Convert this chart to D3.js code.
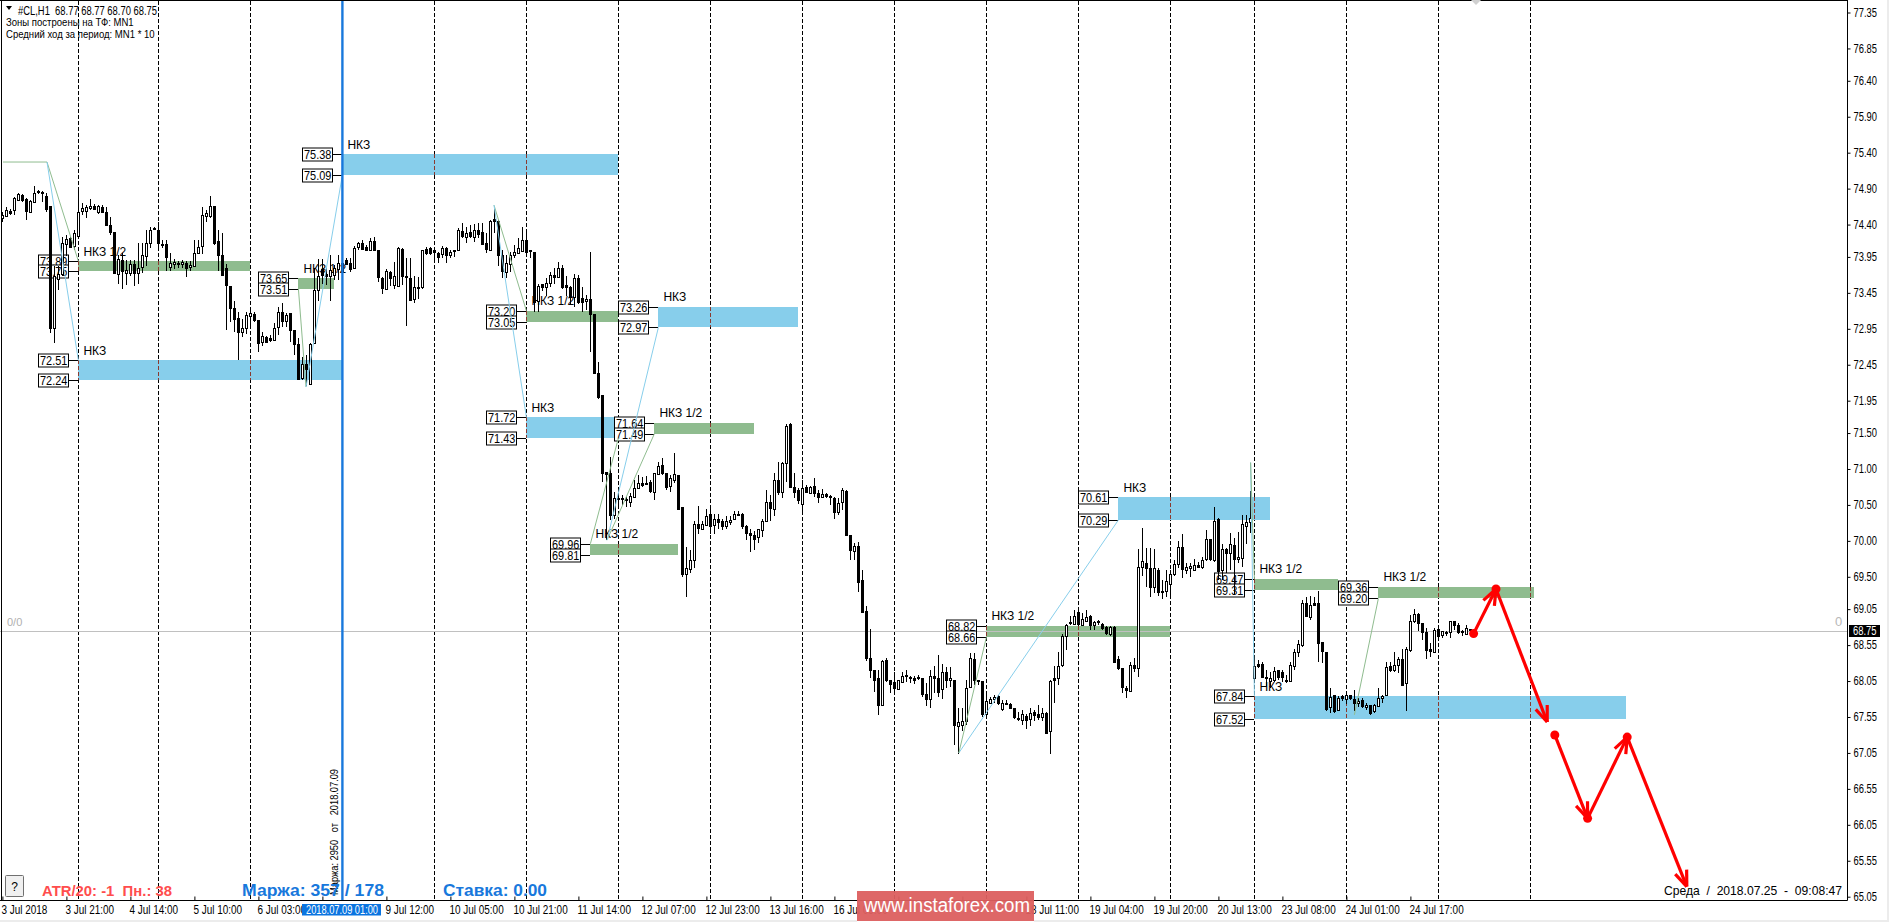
<!DOCTYPE html>
<html><head><meta charset="utf-8">
<script src="https://cdn.jsdelivr.net/npm/d3@7/dist/d3.min.js"></script>
<style>
html,body{margin:0;padding:0;background:#fff;overflow:hidden}
svg{display:block}
text{font-family:"Liberation Sans",Arial,sans-serif;fill:#000;white-space:pre}
</style></head><body>
<script>
const opens=[74.49,74.51,74.59,74.60,74.75,74.81,74.75,74.58,74.71,74.84,
74.85,74.80,74.66,72.96,73.64,73.72,74.13,74.21,74.10,74.24,
74.59,74.60,74.63,74.66,74.57,74.65,74.58,74.40,74.30,73.71,
73.91,73.73,73.73,73.85,73.72,73.81,73.96,74.15,74.35,74.33,
74.13,74.13,73.81,73.85,73.86,73.85,73.86,73.81,73.82,74.01,
74.10,74.52,74.52,74.66,74.17,73.98,73.79,73.54,73.24,73.10,
72.91,72.96,73.13,73.15,73.07,72.76,72.84,72.82,72.80,72.97,
73.19,73.06,73.17,72.94,72.74,72.26,72.46,72.18,72.75,73.49,
73.78,73.71,73.68,73.69,73.79,73.74,73.91,73.87,73.80,74.09,
74.15,74.09,74.04,74.17,74.04,73.65,73.50,73.74,73.56,73.54,
74.06,73.68,73.66,73.36,73.51,73.52,74.06,74.07,74.04,74.01,
73.98,74.08,73.98,74.04,74.04,74.31,74.23,74.29,74.23,74.33,
74.30,74.14,74.05,74.48,74.45,73.98,73.74,73.86,73.98,74.01,
74.04,74.19,74.04,74.02,73.33,73.57,73.53,73.59,73.70,73.68,
73.79,73.56,73.53,73.39,73.66,73.38,73.34,73.36,73.16,72.33,
72.03,70.96,70.94,70.36,70.59,70.59,70.58,70.54,70.61,70.73,
70.80,70.81,70.82,70.68,70.93,71.05,70.94,70.76,70.85,70.92,
70.47,69.54,69.60,69.73,70.24,70.17,70.23,70.38,70.21,70.31,
70.27,70.21,70.26,70.30,70.36,70.38,70.21,70.11,70.08,70.05,
70.15,70.28,70.54,70.45,70.85,70.68,71.08,71.62,70.75,70.71,
70.51,70.75,70.67,70.76,70.67,70.61,70.65,70.62,70.59,70.40,
70.55,70.69,70.08,69.86,69.93,69.46,69.02,68.37,68.20,68.09,
67.72,68.34,68.06,68.04,67.94,68.04,68.13,68.11,68.09,68.10,
68.09,67.87,67.80,68.12,68.09,67.93,68.17,68.06,68.07,67.43,
67.45,67.49,67.96,68.35,68.06,68.05,67.59,67.74,67.80,67.84,
67.66,67.75,67.73,67.67,67.53,67.50,67.57,67.52,67.62,67.59,
67.55,67.61,67.35,68.09,68.09,68.26,68.68,68.87,68.85,69.01,
68.83,68.89,68.95,68.83,68.88,68.84,68.80,68.70,68.80,68.35,
68.23,67.96,67.92,68.28,68.24,69.64,69.69,69.62,69.35,69.60,
69.30,69.30,69.40,69.54,69.68,69.91,69.60,69.62,69.60,69.67,
69.64,69.74,70.02,69.74,70.30,69.59,69.88,69.83,69.94,69.74,
69.77,70.21,70.26,68.09,68.29,68.29,68.11,68.05,68.07,68.21,
68.18,68.05,68.06,68.26,68.45,68.54,69.14,68.95,69.14,69.14,
68.59,68.46,67.69,67.85,67.64,67.84,67.80,67.85,67.80,67.74,
67.79,67.69,67.71,67.62,67.70,67.81,67.85,68.26,68.21,68.27,
68.36,68.02,68.49,68.88,68.98,68.86,68.73,68.49,68.46,68.77,
68.69,68.73,68.73,68.88,68.83,68.74,68.70,68.77];
const highs=[74.57,74.64,74.61,74.79,74.84,74.83,74.77,74.74,74.93,74.88,
74.87,74.84,74.66,73.82,73.82,74.23,74.26,74.23,74.33,74.87,
74.70,74.67,74.75,74.68,74.67,74.67,74.64,74.51,74.30,73.98,
74.00,73.91,73.91,73.91,74.15,74.15,74.33,74.37,74.36,74.44,
74.18,74.18,74.00,73.92,73.90,73.91,73.90,73.89,74.19,74.19,
74.64,74.60,74.80,74.66,74.32,74.28,73.85,73.55,73.34,73.19,
73.09,73.19,73.24,73.18,73.07,72.90,72.85,72.87,73.03,73.25,
73.31,73.17,73.17,72.94,72.82,72.56,72.59,72.75,73.79,73.92,
73.92,73.79,73.98,73.84,73.98,73.94,73.94,73.93,74.10,74.16,
74.19,74.11,74.21,74.23,74.04,73.67,73.78,73.76,73.88,74.09,
74.07,73.94,73.93,73.68,73.67,74.05,74.09,74.09,74.05,74.02,
74.10,74.09,74.04,74.05,74.35,74.42,74.36,74.39,74.41,74.42,
74.42,74.28,74.47,74.62,74.47,74.04,73.98,74.02,74.11,74.21,
74.37,74.30,74.05,74.02,73.58,73.58,73.65,73.74,73.79,73.88,
73.84,73.68,73.54,73.71,73.70,73.53,73.42,74.02,73.16,72.49,
72.03,70.96,71.17,70.68,70.71,70.64,70.61,70.66,70.85,70.92,
70.89,70.90,70.85,70.95,71.10,71.15,70.94,70.92,71.22,70.92,
70.47,69.92,69.87,70.27,70.48,70.27,70.45,70.45,70.38,70.38,
70.31,70.34,70.34,70.42,70.42,70.39,70.22,70.17,70.14,70.17,
70.31,70.71,70.64,70.94,71.10,71.10,71.62,71.64,70.94,70.73,
70.85,70.78,70.76,70.87,70.71,70.72,70.66,70.64,70.61,70.59,
70.74,70.71,70.08,69.97,69.99,69.59,69.09,68.77,68.20,68.20,
68.34,68.37,68.07,68.18,68.07,68.17,68.21,68.12,68.12,68.13,
68.09,68.02,68.21,68.26,68.41,68.29,68.25,68.24,68.07,67.67,
67.67,68.06,68.44,68.44,68.07,68.05,67.88,67.83,67.85,67.86,
67.79,67.79,67.74,67.67,67.62,67.65,67.59,67.67,67.65,67.72,
67.67,67.62,68.07,68.26,68.46,68.71,68.85,68.95,69.04,69.02,
68.99,69.04,68.97,68.89,68.90,68.86,68.81,68.81,68.81,68.40,
68.23,67.98,68.32,68.37,69.88,70.18,69.90,69.90,69.88,69.62,
69.46,69.60,69.60,69.74,70.00,70.09,69.69,69.69,69.75,69.70,
69.77,70.15,70.02,70.47,70.32,69.95,69.90,70.11,70.04,70.13,
70.36,70.36,70.69,68.35,68.34,68.32,68.20,68.17,68.25,68.21,
68.21,68.14,68.32,68.49,68.62,69.18,69.22,69.23,69.22,69.30,
68.59,68.46,67.95,67.86,67.84,67.86,67.88,67.86,67.93,67.81,
67.81,67.74,67.72,67.73,67.95,67.86,68.32,68.32,68.45,68.39,
68.49,68.53,68.97,69.05,68.99,68.86,68.79,68.58,68.79,68.79,
68.75,68.75,68.89,68.89,68.86,68.76,68.83,68.77];
const lows=[74.44,74.50,74.53,74.54,74.74,74.71,74.46,74.57,74.70,74.82,
74.72,74.58,72.89,72.75,73.49,73.69,73.96,74.07,74.05,74.23,
74.53,74.49,74.60,74.60,74.55,74.56,74.38,74.26,73.72,73.58,
73.50,73.56,73.68,73.55,73.57,73.72,73.82,74.07,74.33,74.07,
74.08,73.76,73.75,73.78,73.79,73.79,73.67,73.75,73.81,74.00,
73.99,74.44,74.49,74.12,73.76,73.70,72.93,73.05,72.91,72.52,
72.84,72.88,72.96,73.05,72.63,72.71,72.76,72.77,72.79,72.86,
72.98,72.98,72.77,72.59,72.24,72.24,72.15,72.17,72.75,73.33,
73.58,73.56,73.33,73.63,73.63,73.73,73.84,73.74,73.79,74.04,
74.04,74.04,74.04,74.04,73.60,73.44,73.49,73.54,73.51,73.53,
73.56,72.99,73.33,73.31,73.37,73.51,73.98,73.98,73.91,73.86,
73.93,73.86,73.93,73.95,74.04,74.21,74.14,74.22,74.16,74.22,
74.13,74.01,74.04,74.28,73.82,73.65,73.65,73.74,73.94,74.00,
74.02,73.96,73.93,73.19,73.19,73.48,73.40,73.53,73.58,73.67,
73.51,73.40,73.30,73.26,73.30,73.19,73.21,72.63,72.34,71.97,
70.82,70.01,70.29,70.31,70.47,70.50,70.47,70.47,70.59,70.72,
70.75,70.78,70.67,70.57,70.92,70.92,70.71,70.68,70.80,70.45,
69.50,69.22,69.55,69.62,70.10,70.15,70.22,70.10,70.10,70.17,
70.15,70.17,70.22,70.29,70.34,70.17,70.01,69.84,69.87,69.97,
70.06,70.26,70.27,70.34,70.64,70.59,70.82,70.73,70.59,70.51,
70.39,70.66,70.66,70.61,70.52,70.61,70.59,70.50,70.30,70.36,
70.43,70.07,69.73,69.73,69.29,68.99,68.33,68.09,67.90,67.58,
67.71,68.04,67.88,67.88,67.93,68.02,68.04,68.02,68.01,68.06,
67.83,67.70,67.67,67.88,67.83,67.80,67.96,67.97,67.16,67.04,
67.35,67.44,67.95,68.00,68.00,67.55,67.56,67.73,67.74,67.72,
67.63,67.72,67.66,67.52,67.49,67.44,67.38,67.42,67.49,67.51,
67.49,67.32,67.04,67.75,68.00,68.25,68.48,68.83,68.83,68.83,
68.81,68.88,68.76,68.76,68.83,68.76,68.69,68.67,68.31,68.21,
67.88,67.81,67.91,68.18,68.11,69.51,69.36,69.22,69.27,69.23,
69.19,69.22,69.25,69.51,69.62,69.48,69.54,69.50,69.59,69.62,
69.61,69.72,69.72,69.71,69.46,69.46,69.55,69.60,69.25,69.69,
69.64,69.95,70.11,68.07,68.23,68.09,67.98,67.95,68.03,68.07,
68.03,68.02,68.05,68.21,68.39,68.53,68.94,68.90,69.09,68.31,
68.30,67.63,67.60,67.61,67.63,67.77,67.73,67.79,67.63,67.69,
67.67,67.65,67.58,67.60,67.69,67.74,67.84,68.18,68.18,68.16,
67.98,67.63,68.46,68.86,68.74,68.62,68.36,68.39,68.45,68.66,
68.65,68.67,68.65,68.76,68.71,68.67,68.69,68.70];
const closes=[74.53,74.60,74.56,74.77,74.83,74.74,74.59,74.73,74.84,74.86,
74.83,74.62,72.96,73.68,73.71,74.15,74.20,74.09,74.28,74.58,
74.63,74.65,74.66,74.62,74.66,74.58,74.40,74.30,73.73,73.92,
73.76,73.77,73.85,73.73,73.79,73.98,74.14,74.33,74.33,74.15,
74.11,73.95,73.86,73.88,73.84,73.88,73.79,73.84,74.00,74.09,
74.53,74.56,74.66,74.15,73.98,73.70,73.56,73.24,73.09,72.91,
72.96,73.14,73.17,73.06,72.75,72.85,72.77,72.79,72.96,73.18,
73.07,73.14,72.93,72.75,72.26,72.46,72.39,72.74,73.49,73.68,
73.69,73.68,73.77,73.79,73.87,73.87,73.86,73.79,74.08,74.14,
74.06,74.05,74.17,74.04,73.66,73.51,73.75,73.66,73.68,74.07,
73.68,73.66,73.35,73.53,73.53,74.04,74.01,74.00,74.01,73.95,
74.07,73.98,74.02,74.02,74.32,74.24,74.28,74.24,74.33,74.28,
74.14,74.05,74.45,74.45,73.98,73.76,73.86,73.98,74.02,74.08,
74.19,74.02,74.02,73.33,73.54,73.53,73.59,73.70,73.67,73.80,
73.53,73.53,73.39,73.66,73.33,73.33,73.37,73.15,72.34,72.00,
70.94,70.93,70.36,70.60,70.58,70.57,70.56,70.63,70.73,70.80,
70.77,70.79,70.69,70.94,71.04,70.94,70.74,70.87,70.93,70.45,
69.54,69.62,69.73,70.23,70.19,70.24,70.35,70.22,70.30,70.27,
70.20,70.28,70.29,70.37,70.38,70.21,70.11,70.08,70.03,70.16,
70.27,70.54,70.45,70.85,70.68,71.09,71.60,70.75,70.68,70.57,
70.73,70.68,70.75,70.66,70.62,70.65,70.62,70.61,70.40,70.53,
70.71,70.08,69.87,69.93,69.43,69.02,68.37,68.20,68.06,67.71,
68.33,68.06,68.00,67.95,68.06,68.12,68.11,68.09,68.06,68.08,
67.87,67.80,68.12,68.09,67.90,68.17,68.06,68.09,67.44,67.48,
67.50,67.95,68.37,68.06,68.04,67.59,67.77,67.80,67.83,67.74,
67.74,67.73,67.67,67.54,67.51,67.59,67.52,67.61,67.58,67.55,
67.60,67.33,68.05,68.06,68.26,68.67,68.83,68.85,68.96,68.85,
68.92,68.94,68.83,68.87,68.86,68.79,68.71,68.80,68.32,68.23,
67.96,67.93,68.28,68.24,69.64,69.72,69.62,69.36,69.62,69.30,
69.28,69.44,69.54,69.68,69.91,69.60,69.64,69.65,69.67,69.64,
69.74,70.02,69.74,70.28,69.58,69.88,69.83,69.96,69.74,69.77,
70.24,70.26,70.32,68.26,68.26,68.11,68.09,68.09,68.19,68.11,
68.11,68.07,68.28,68.46,68.56,69.13,68.96,69.11,69.11,68.58,
68.46,67.67,67.83,67.63,67.81,67.81,67.85,67.81,67.75,67.77,
67.70,67.72,67.60,67.71,67.81,67.84,68.24,68.21,68.28,68.35,
68.00,68.49,68.89,68.98,68.86,68.73,68.48,68.46,68.76,68.67,
68.74,68.72,68.88,68.83,68.73,68.72,68.79,68.75];

const priceTicks=[77.35,76.85,76.40,75.90,75.40,74.90,74.40,73.95,73.45,72.95,72.45,71.95,71.50,71.00,70.50,70.00,69.50,69.05,68.55,68.05,67.55,67.05,66.55,66.05,65.55,65.05];
const timeTickBars=[0,16,32,48,64,80,96,112,128,144,160,176,192,208,224,240,256,272,288,304,320,336,352];
const timeTickLabels=["3 Jul 2018","3 Jul 21:00","4 Jul 14:00","5 Jul 10:00","6 Jul 03:00","","9 Jul 12:00","10 Jul 05:00","10 Jul 21:00","11 Jul 14:00","12 Jul 07:00","12 Jul 23:00","13 Jul 16:00","16 Jul 09:00","","","18 Jul 11:00","19 Jul 04:00","19 Jul 20:00","20 Jul 13:00","23 Jul 08:00","24 Jul 01:00","24 Jul 17:00"];
const separatorBars=[19,39,62,108,131,154,177,200,223,246,269,292,313,336,359,382];
const markerBar=85;

const zoneKind=["b","g","g","b","g","b","b","g","g","b","g","g","g","b"];
const zoneStart=[19,19,74,85,131,164,131,163,147,279,246,313,344,313];
const zoneEnd=[85,62,83,154,154,199,154,188,169,317,292,334,383,406];
const zoneTop=[72.51,73.89,73.65,75.38,73.20,73.26,71.72,71.64,69.96,70.61,68.82,69.47,69.36,67.84];
const zoneBottom=[72.24,73.75,73.51,75.09,73.05,72.97,71.43,71.49,69.81,70.29,68.66,69.31,69.20,67.52];

const linkKind=["g","g","b","g","b","g","b","g","g","b","b","g","b","g","g"];
const linkBar0=[0.15,11.15,11.15,74,75.9,122.9,122.9,147,151.15,151.15,239.1,239.1,312.05,312.05,338];
const linkPrice0=[75.27,75.27,75.27,73.51,72.14,74.67,74.67,69.96,70.01,70.01,67.05,67.05,71.09,71.09,67.58];
const linkBar1=[11.15,19,19,75.9,85,131,131,154,163,164,279,246,313,313,344];
const linkPrice1=[75.27,73.89,72.51,72.14,75.09,73.20,71.72,71.43,71.49,72.97,70.29,68.66,67.84,69.47,69.20];

const arrowBar0=[367.8,373.4,388.1,396.3,406.2];
const arrowPrice0=[68.71,69.33,67.30,66.14,67.27];
const arrowBar1=[373.4,386.2,396.3,406.2,421.1];
const arrowPrice1=[69.33,67.48,66.14,67.27,65.19];
const arrowStartDot=[true,false,true,false,false];
const arrowEndDot=[true,false,true,true,false];

const W=1889,H=922,axisX=1847.5,axisY=900.5;
const colBlue="#87CEEB",colGreen="#8FBC8F";
const x=d3.scaleLinear().domain([0,461]).range([2.4,1846.4]);
const y=d3.scaleLinear().domain([77.35,65.05]).range([12.5,896.7]);
const px=i=>Math.floor(x(i))+.5;
function squeeze(sel,f){sel.each(function(){const l=this.getComputedTextLength();if(l>0){this.setAttribute("textLength",l*f);this.setAttribute("lengthAdjust","spacingAndGlyphs");}});return sel;}
function fitTo(sel,w){sel.attr("textLength",w).attr("lengthAdjust","spacingAndGlyphs");return sel;}

const svg=d3.select("body").append("svg").attr("width",W).attr("height",H);
svg.append("rect").attr("width",W).attr("height",H).attr("fill","#fff");

// day separators
svg.append("g").selectAll("line").data(separatorBars).join("line")
  .attr("x1",px).attr("x2",px).attr("y1",1).attr("y2",axisY)
  .attr("stroke","#000").attr("stroke-dasharray","4 2").attr("shape-rendering","crispEdges");

// zones
const zi=d3.range(zoneKind.length);
svg.append("g").selectAll("rect").data(zi).join("rect")
  .attr("x",i=>x(zoneStart[i])).attr("width",i=>x(zoneEnd[i])-x(zoneStart[i]))
  .attr("y",i=>y(zoneTop[i])).attr("height",i=>y(zoneBottom[i])-y(zoneTop[i]))
  .attr("fill",i=>zoneKind[i]=="b"?colBlue:colGreen).attr("shape-rendering","crispEdges");

// separators seen through zones
const through=[];
zi.forEach(i=>separatorBars.forEach(s=>{if(s>zoneStart[i]-.01&&s<zoneEnd[i]-.5)through.push([s,zoneTop[i],zoneBottom[i]])}));
svg.append("g").selectAll("line").data(through).join("line")
  .attr("x1",d=>px(d[0])).attr("x2",d=>px(d[0])).attr("y1",d=>y(d[1])).attr("y2",d=>y(d[2]))
  .attr("stroke","#8a3a30").attr("stroke-dasharray","4 2").attr("shape-rendering","crispEdges");

// price line
const lastPrice=closes[closes.length-1];
svg.append("line").attr("x1",0).attr("x2",axisX).attr("y1",Math.round(y(lastPrice))+.5).attr("y2",Math.round(y(lastPrice))+.5).attr("stroke","#c0c0c0");
svg.append("text").attr("x",7).attr("y",626).attr("font-size",11).style("fill","#b0b0b0").text("0/0");
svg.append("text").attr("x",1835).attr("y",626).attr("font-size",13).style("fill","#b8b8b8").text("0");

// value boxes
const valueRows=[];
zi.forEach(i=>{valueRows.push([i,zoneTop[i]]);valueRows.push([i,zoneBottom[i]]);});
const vb=svg.append("g");
valueRows.forEach(([i,v])=>{
  const xs=Math.round(x(zoneStart[i])),yy=Math.round(y(v))+.5;
  vb.append("line").attr("x1",xs-9.5).attr("x2",xs).attr("y1",yy).attr("y2",yy).attr("stroke","#000");
  vb.append("rect").attr("x",xs-39.5).attr("y",yy-6.5).attr("width",30).attr("height",13).attr("fill","#fff").attr("stroke","#000");
  squeeze(vb.append("text").attr("x",xs-38).attr("y",yy+4.6).attr("font-size",13).text(v.toFixed(2)),.84);
});
// zone labels
squeeze(svg.append("g").selectAll("text").data(zi).join("text")
  .attr("x",i=>x(zoneStart[i])+5).attr("y",i=>y(zoneTop[i])-5.5)
  .attr("font-size",13.5).text(i=>zoneKind[i]=="b"?"НКЗ":"НКЗ 1/2"),.89);

// candles
const ci=d3.range(opens.length);
const cg=svg.append("g").attr("shape-rendering","crispEdges");
cg.selectAll("line").data(ci).join("line")
  .attr("x1",px).attr("x2",px).attr("y1",i=>y(highs[i])).attr("y2",i=>y(lows[i])).attr("stroke","#000");
cg.selectAll("rect").data(ci).join("rect")
  .attr("x",i=>closes[i]>=opens[i]?px(i)-1:px(i)-1.5)
  .attr("width",i=>closes[i]>=opens[i]?2:3)
  .attr("y",i=>closes[i]>=opens[i]?Math.round(y(closes[i]))+.5:Math.round(y(opens[i])))
  .attr("height",i=>{const h=Math.abs(y(opens[i])-y(closes[i]));return closes[i]>=opens[i]?Math.max(1,Math.round(h)):Math.max(1,Math.round(h)+1)})
  .attr("fill",i=>closes[i]>=opens[i]?"#fff":"#000")
  .attr("stroke",i=>closes[i]>=opens[i]?"#000":"none");

// thin links
svg.append("g").selectAll("line").data(d3.range(linkKind.length)).join("line")
  .attr("x1",i=>x(linkBar0[i])).attr("y1",i=>y(linkPrice0[i])).attr("x2",i=>x(linkBar1[i])).attr("y2",i=>y(linkPrice1[i]))
  .attr("stroke",i=>linkKind[i]=="b"?colBlue:colGreen).attr("stroke-width",1);

// marker line
svg.append("line").attr("x1",x(markerBar)).attr("x2",x(markerBar)).attr("y1",1).attr("y2",axisY).attr("stroke","#1878dc").attr("stroke-width",2.4);
fitTo(svg.append("text").attr("transform",`translate(${x(markerBar)-4},895) rotate(-90)`).attr("font-size",10.5).text("Маржа: 2950   от   2018.07.09"),126);

// forecast arrows
const ag=svg.append("g");
d3.range(arrowBar0.length).forEach(i=>{
  const x0=x(arrowBar0[i]),y0=y(arrowPrice0[i]),x1=x(arrowBar1[i]),y1=y(arrowPrice1[i]);
  ag.append("line").attr("x1",x0).attr("y1",y0).attr("x2",x1).attr("y2",y1).attr("stroke","#f00").attr("stroke-width",3.2);
  const a=Math.atan2(y0-y1,x0-x1);
  [-.37,.37].forEach(d=>ag.append("line").attr("x1",x1).attr("y1",y1)
     .attr("x2",x1+17*Math.cos(a+d)).attr("y2",y1+17*Math.sin(a+d)).attr("stroke","#f00").attr("stroke-width",3.2));
  if(arrowStartDot[i]) ag.append("circle").attr("cx",x0).attr("cy",y0).attr("r",4.5).attr("fill","#f00");
  if(arrowEndDot[i]) ag.append("circle").attr("cx",x1).attr("cy",y1).attr("r",4.5).attr("fill","#f00");
});

// frame
svg.append("line").attr("x1",0).attr("x2",axisX).attr("y1",.5).attr("y2",.5).attr("stroke","#000");
svg.append("line").attr("x1",1.5).attr("x2",1.5).attr("y1",0).attr("y2",axisY).attr("stroke","#000").attr("stroke-width",1);

// axes
const ax=d3.axisRight(y).tickValues(priceTicks).tickFormat(d=>d.toFixed(2)).tickSize(3).tickPadding(3);
const gy=svg.append("g").attr("transform",`translate(${axisX},0)`).call(ax);
gy.select(".domain").attr("d",`M0,0V${axisY}`).attr("stroke","#000");
gy.selectAll("line").attr("stroke","#000");
squeeze(gy.selectAll("text").attr("font-size",12).style("font-family",'"Liberation Sans",sans-serif').style("fill","#000"),.78);

const bx=d3.axisBottom(x).tickValues(timeTickBars).tickFormat((d,i)=>timeTickLabels[i]).tickSize(-4).tickPadding(6);
const gx=svg.append("g").attr("transform",`translate(0,${axisY})`).call(bx);
gx.select(".domain").attr("d",`M0,0H${axisX}`).attr("stroke","#000");
gx.selectAll("line").attr("stroke","#000");
squeeze(gx.selectAll("text").attr("text-anchor","start").attr("dx",-1.5).attr("y",13.5).attr("dy",0).attr("font-size",12).style("font-family",'"Liberation Sans",sans-serif').style("fill","#000"),.83);

// highlighted date on the axis
svg.append("rect").attr("x",302).attr("y",904).attr("width",79).attr("height",11.5).attr("fill","#0a74e0");
fitTo(svg.append("text").attr("x",306).attr("y",914).attr("font-size",12).style("fill","#fff").text("2018.07.09 01:00"),72);

// current price tag
svg.append("rect").attr("x",1849).attr("y",625).attr("width",31).attr("height",12).attr("fill","#000");
squeeze(svg.append("text").attr("x",1853).attr("y",635).attr("font-size",12).style("fill","#fff").text(lastPrice.toFixed(2)),.78);

// header
svg.append("path").attr("d","M6,6h6l-3,4z").attr("fill","#000");
fitTo(svg.append("text").attr("x",18).attr("y",15).attr("font-size",12).text("#CL,H1  68.77 68.77 68.70 68.75"),139);
squeeze(svg.append("text").attr("x",6).attr("y",26).attr("font-size",11.5).text("Зоны построены на ТФ: MN1"),.83);
squeeze(svg.append("text").attr("x",6).attr("y",37.5).attr("font-size",11.5).text("Средний ход за период: MN1 * 10"),.83);
svg.append("path").attr("d","M1471,0h10l-5,5z").attr("fill","#d0d0d0");

// bottom-left info
svg.append("rect").attr("x",5.5).attr("y",875.5).attr("width",18).attr("height",21).attr("rx",1).attr("fill","#f0f0f0").attr("stroke","#707070");
svg.append("text").attr("x",14.5).attr("y",891).attr("text-anchor","middle").attr("font-size",12).text("?");
fitTo(svg.append("text").attr("x",42).attr("y",896).attr("font-size",15).attr("font-weight","bold").style("fill","#ff4d4d").text("ATR/20: -1  Пн.: 38"),130);
fitTo(svg.append("text").attr("x",242).attr("y",896).attr("font-size",17).attr("font-weight","bold").style("fill","#1878dc").text("Маржа: 357 / 178"),142);
fitTo(svg.append("text").attr("x",443).attr("y",896).attr("font-size",17).attr("font-weight","bold").style("fill","#1878dc").text("Ставка: 0.00"),104);
fitTo(svg.append("text").attr("x",1664).attr("y",895).attr("font-size",13.5).text("Среда  /  2018.07.25  -  09:08:47"),178);

// watermark
svg.append("rect").attr("x",857).attr("y",891).attr("width",177).attr("height",30).attr("fill","#dc5f5f").attr("opacity",.95);
fitTo(svg.append("text").attr("x",864).attr("y",912).attr("font-size",20).style("fill","#fff").text("www.instaforex.com"),166);

// window edge
svg.append("rect").attr("x",1887).attr("y",0).attr("width",2).attr("height",H).attr("fill","#ececec");
svg.append("rect").attr("x",0).attr("y",920).attr("width",857).attr("height",2).attr("fill","#ececec");
svg.append("rect").attr("x",1034).attr("y",920).attr("width",855).attr("height",2).attr("fill","#ececec");
</script>
</body></html>
